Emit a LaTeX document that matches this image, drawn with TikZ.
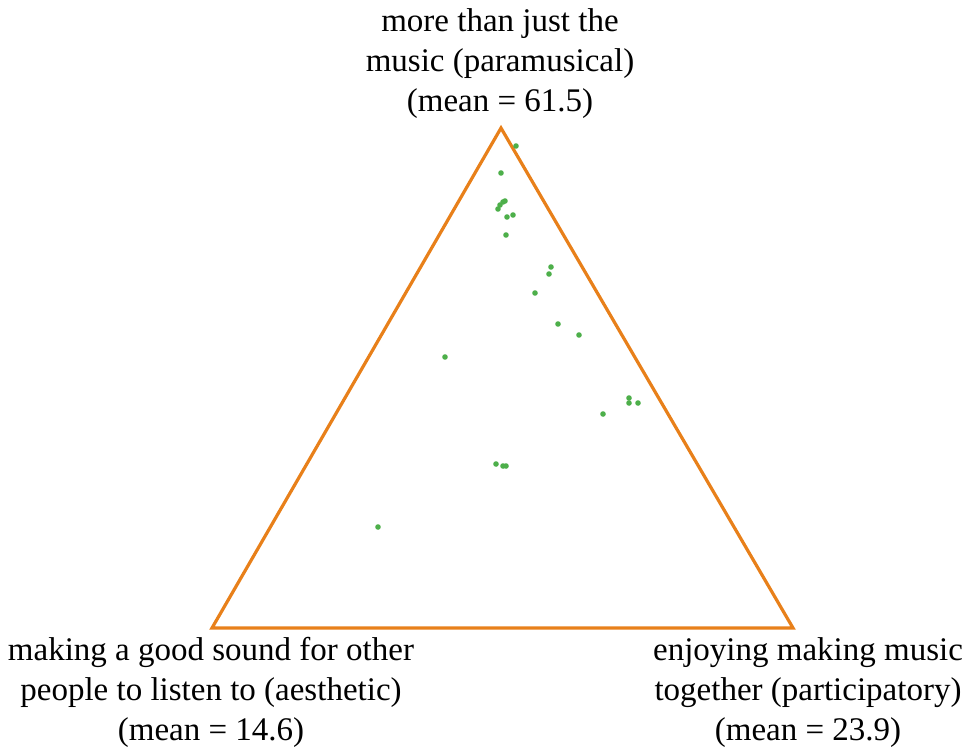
\documentclass[tikz,border=0pt]{standalone}
\usepackage{fontspec}
\setmainfont{Liberation Serif}
\definecolor{edgeorange}{HTML}{E8801A}
\definecolor{dotgreen}{HTML}{4DAF4A}
\begin{document}
\begin{tikzpicture}[x=1pt,y=-1pt,
  corner label/.style={align=center,inner sep=0pt,anchor=north,
    font=\fontsize{33}{40}\selectfont},
  response/.style={fill=dotgreen,draw=none},
  frame/.style={draw=edgeorange,line width=3.2pt}]
\useasboundingbox (0,0) rectangle (976,747);

% corners of the ternary triangle
\coordinate (para) at (501,128);
\coordinate (aest) at (212,628);
\coordinate (part) at (793,628);
\draw[frame] (para) -- (aest) -- (part) -- cycle;

% corner labels
\node[corner label] (lpara) at (500,8) {more than just the\\music (paramusical)\\(mean = 61.5)};
\node[corner label] (laest) at (211,637) {making a good sound for other\\people to listen to (aesthetic)\\(mean = 14.6)};
\node[corner label] (lpart) at (808,637) {enjoying making music\\together (participatory)\\(mean = 23.9)};

% individual responses
\foreach \px/\py in {516/146, 501/173, 498/209, 500/205, 503/202, 505/201,
  507/217, 513/215, 506/235, 551/267, 549/274, 535/293, 558/324, 579/335,
  445/357, 629/398, 629/403, 638/403, 603/414, 496/464, 503/466, 506/466,
  378/527}
  \fill[response] (\px,\py) circle (2.8pt);
\end{tikzpicture}
\end{document}
